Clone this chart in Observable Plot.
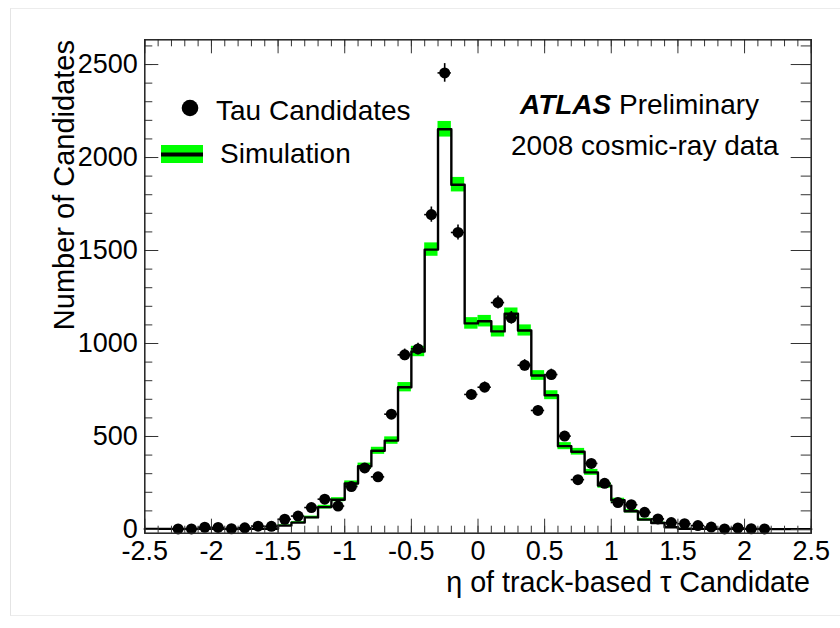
<!DOCTYPE html>
<html><head><meta charset="utf-8">
<script src="https://cdn.jsdelivr.net/npm/d3@7"></script>
<script src="https://cdn.jsdelivr.net/npm/@observablehq/plot@0.6"></script>
<style>
html,body{margin:0;padding:0;background:#fff;}
#wrap{position:relative;width:840px;height:628px;overflow:hidden;}
#border{position:absolute;left:10px;top:8px;width:840px;height:606px;border-left:1px solid #e4e4e4;border-top:1px solid #ececec;border-bottom:1px solid #ececec;}
#wrap svg{position:absolute;left:0;top:0;}
</style></head><body><div id="wrap"><div id="border"></div></div>
<script>
// ---- data ----
const binCenters = [-2.45,-2.35,-2.25,-2.15,-2.05,-1.95,-1.85,-1.75,-1.65,-1.55,
  -1.45,-1.35,-1.25,-1.15,-1.05,-0.95,-0.85,-0.75,-0.65,-0.55,
  -0.45,-0.35,-0.25,-0.15,-0.05,0.05,0.15,0.25,0.35,0.45,
  0.55,0.65,0.75,0.85,0.95,1.05,1.15,1.25,1.35,1.45,
  1.55,1.65,1.75,1.85,1.95,2.05,2.15,2.25,2.35,2.45];
const simulation = [3,3,3,3,3,3,3,3,3,4,
  21,37,65,120,160,247,340,423,478,765,
  957,1505,2152,1854,1108,1120,1065,1160,1070,828,
  722,448,418,307,236,157,98,53,35,12,
  4,3,3,3,3,3,3,2,2,2];
const simulationErr = [2,2,2,2,2,2,2,2,2,2,
  4,5,7,10,11,14,17,19,20,25,
  28,36,42,39,31,31,30,31,30,26,
  24,19,18,16,14,11,9,7,5,3,
  2,2,2,2,2,2,2,2,2,2];
const tauCenters = [-2.25,-2.15,-2.05,-1.95,-1.85,-1.75,-1.65,-1.55,
  -1.45,-1.35,-1.25,-1.15,-1.05,-0.95,-0.85,-0.75,-0.65,-0.55,
  -0.45,-0.35,-0.25,-0.15,-0.05,0.05,0.15,0.25,0.35,0.45,
  0.55,0.65,0.75,0.85,0.95,1.05,1.15,1.25,1.35,1.45,
  1.55,1.65,1.75,1.85,1.95,2.05,2.15];
const tauCandidates = [3,3,12,11,4,9,18,17,
  55,72,118,163,126,231,331,283,620,939,
  971,1693,2455,1597,726,765,1220,1138,883,640,
  833,502,268,355,248,145,133,92,57,37,
  31,21,13,3,8,4,3];
const tauErr = [2,2,3,3,2,3,4,4,
  7,8,11,13,11,15,18,17,25,31,
  31,41,50,40,27,28,35,34,30,25,
  29,22,16,19,16,12,12,10,8,6,
  6,5,4,2,3,2,2];
const binWidth = 0.1;
const xTickLabels = [-2.5,-2,-1.5,-1,-0.5,0,0.5,1,1.5,2,2.5];
const yTickLabels = [0,500,1000,1500,2000,2500];
const legendLabels = ["Tau Candidates","Simulation"];
const xTitle = "η of track-based τ Candidate";
const yTitle = "Number of Candidates";

// ---- derived tables ----
const simRows = binCenters.map((c,i)=>({lo:c-binWidth/2, hi:c+binWidth/2, v:simulation[i], e:simulationErr[i]}));
const stepRows = simRows.map(d=>({x:d.lo, v:d.v})).concat([{x:simRows[simRows.length-1].hi, v:simRows[simRows.length-1].v}]);
const tauRows = tauCenters.map((c,i)=>({c, v:tauCandidates[i], e:tauErr[i]}));
const xMinor = d3.range(-25,26).map(i=>i/10);
const yMinor = d3.range(0,27).map(i=>i*100);

const W=840,H=628, mL=144.3, mR=29.3, mT=39.3, mB=95.3;
const fw=W-mL-mR, fh=H-mT-mB;
const font='"Liberation Sans", Arial, Helvetica, sans-serif';
const tickCol="#333";

const chart = Plot.plot({
  width:W, height:H, marginLeft:mL, marginRight:mR, marginTop:mT, marginBottom:mB,
  x:{domain:[-2.5,2.5], label:null},
  y:{domain:[-20,2633], label:null},
  style:{fontFamily:font, background:"transparent", color:"#000"},
  marks:[
    Plot.rect(simRows,{x1:"lo",x2:"hi",y1:d=>d.v-d.e,y2:d=>d.v+d.e,fill:"#00ff00"}),
    Plot.line(stepRows,{x:"x",y:"v",curve:"step-after",stroke:"#000",strokeWidth:2.4}),
    Plot.ruleX(tauRows,{x:"c",y1:d=>d.v-d.e,y2:d=>d.v+d.e,stroke:"#000",strokeWidth:1.6}),
    Plot.ruleY(tauRows,{y:"v",x1:d=>d.c-binWidth/2,x2:d=>d.c+binWidth/2,stroke:"#000",strokeWidth:1.6}),
    Plot.dot(tauRows,{x:"c",y:"v",r:5.5,fill:"#000",stroke:null}),
    // ticks (inward, all four sides)
    Plot.tickX(xMinor,{x:d=>d,insetTop:fh-7,stroke:tickCol}),
    Plot.tickX(xTickLabels,{x:d=>d,insetTop:fh-14,stroke:tickCol}),
    Plot.tickX(xMinor,{x:d=>d,insetBottom:fh-7,stroke:tickCol}),
    Plot.tickX(xTickLabels,{x:d=>d,insetBottom:fh-14,stroke:tickCol}),
    Plot.tickY(yMinor,{y:d=>d,insetRight:fw-8,stroke:tickCol}),
    Plot.tickY(yTickLabels,{y:d=>d,insetRight:fw-14,stroke:tickCol}),
    Plot.tickY(yMinor,{y:d=>d,insetLeft:fw-10,stroke:tickCol}),
    Plot.tickY(yTickLabels,{y:d=>d,insetLeft:fw-20,stroke:tickCol}),
    Plot.axisX({anchor:"bottom",ticks:xTickLabels,tickSize:0,tickPadding:8,fontSize:27,tickFormat:d=>String(d),label:null}),
    Plot.axisY({anchor:"left",ticks:yTickLabels,tickSize:0,tickPadding:7,fontSize:27,tickFormat:d=>String(d),label:null}),
    Plot.frame({stroke:"#222",strokeWidth:1.5})
  ]
});
document.getElementById("wrap").appendChild(chart);

const svg = d3.select(chart);
const g = svg.append("g").attr("font-family",font).attr("fill","#000").attr("text-anchor","start");
// axis titles
g.append("text").attr("text-anchor","end").attr("font-size",29)
  .attr("transform","translate(74,40) rotate(-90)").text(yTitle);
g.append("text").attr("text-anchor","end").attr("font-size",28.7)
  .attr("x",810).attr("y",592).text(xTitle);
// legend
g.append("circle").attr("cx",190).attr("cy",108).attr("r",8.3).attr("fill","#000");
g.append("text").attr("text-anchor","start").attr("x",216).attr("y",120).attr("font-size",28).text(legendLabels[0]);
g.append("rect").attr("x",161).attr("y",145).attr("width",42).attr("height",18).attr("fill","#00ff00");
g.append("line").attr("x1",161).attr("x2",203).attr("y1",154.5).attr("y2",154.5).attr("stroke","#000").attr("stroke-width",4);
g.append("text").attr("text-anchor","start").attr("x",220).attr("y",163).attr("font-size",28).text(legendLabels[1]);
// ATLAS label
g.append("text").attr("text-anchor","start").attr("x",520).attr("y",114).attr("font-size",28).attr("font-weight","bold").attr("font-style","italic").text("ATLAS");
g.append("text").attr("text-anchor","start").attr("x",619).attr("y",114).attr("font-size",28).text("Preliminary");
g.append("text").attr("text-anchor","start").attr("x",511).attr("y",155).attr("font-size",28).text("2008 cosmic-ray data");
</script>
</body></html>
